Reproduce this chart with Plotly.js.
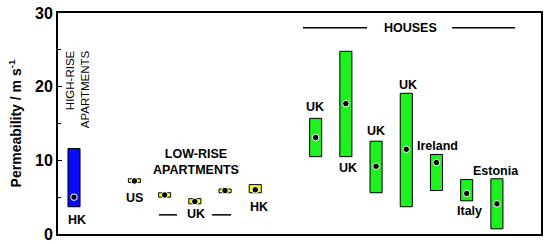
<!DOCTYPE html>
<html>
<head>
<meta charset="utf-8">
<script src="https://cdn.plot.ly/plotly-3.0.1.min.js"></script>
<style>
  html, body { margin: 0; padding: 0; background: #fff; }
  #graph { width: 550px; height: 244px; }
</style>
</head>
<body>
<div id="graph"></div>
<script>
// valores (m s-1)
const highRiseCat = ['HK'];
const highRiseLow = [3.7];
const highRiseHigh = [11.6];
const highRiseMean = [5.0];

const lowRiseCat = ['US', 'UK', 'UK', 'UK', 'HK'];
const lowRiseLow = [7.0, 5.0, 4.1, 5.6, 5.6];
const lowRiseHigh = [7.5, 5.6, 4.8, 6.1, 6.7];
const lowRiseMean = [7.2, 5.3, 4.4, 5.9, 6.0];

const housesCat = ['UK', 'UK', 'UK', 'UK', 'Ireland', 'Italy', 'Estonia'];
const housesLow = [10.5, 10.5, 5.6, 3.7, 5.9, 4.5, 0.7];
const housesHigh = [15.7, 24.8, 12.6, 19.1, 10.8, 7.4, 7.5];
const housesMean = [13.1, 17.7, 9.2, 11.5, 9.7, 5.5, 4.1];

// grupos, con un hueco entre ellos
const grupos = [
  {cat: highRiseCat, low: highRiseLow, high: highRiseHigh, mean: highRiseMean, color: '#0a0aff'},
  {cat: lowRiseCat, low: lowRiseLow, high: lowRiseHigh, mean: lowRiseMean, color: '#ffff00'},
  {cat: housesCat, low: housesLow, high: housesHigh, mean: housesMean, color: '#1ff01f'}
];

let xs = [], bases = [], alturas = [], medias = [], colores = [];
let pos = 0;
grupos.forEach(g => {
  g.cat.forEach((c, i) => {
    xs.push(pos);
    bases.push(g.low[i]);
    alturas.push(g.high[i] - g.low[i]);
    medias.push(g.mean[i]);
    colores.push(g.color);
    pos++;
  });
  pos++; // hueco entre grupos
});

const barras = {
  type: 'bar',
  x: xs,
  y: alturas,
  base: bases,
  width: 0.4,
  marker: {color: colores, line: {color: '#000', width: 1}},
  hoverinfo: 'skip'
};

const puntos = {
  type: 'scatter',
  mode: 'markers',
  x: xs,
  y: medias,
  marker: {color: '#000', size: 6.5, line: {color: '#fff', width: 1}},
  hoverinfo: 'skip'
};

const fuente = {family: 'Arial, Liberation Sans, sans-serif', size: 12.5, color: '#000'};
function etiqueta(texto, x, y, extra) {
  return Object.assign({
    text: texto, x: x, y: y, xref: 'x', yref: 'y',
    showarrow: false, font: fuente
  }, extra || {});
}

const anotaciones = [
  etiqueta('HIGH-RISE<br>APARTMENTS', 0.12, 19.6, {textangle: -90, align: 'right', font: Object.assign({}, fuente, {size: 11.5})}),
  etiqueta('<b>' + highRiseCat[0] + '</b>', 0.1, 1.9),
  etiqueta('<b>LOW-RISE<br>APARTMENTS</b>', 4.04, 9.8),
  etiqueta('<b>' + lowRiseCat[0] + '</b>', 1.99, 4.9),
  etiqueta('<b>UK</b>', 4.04, 2.7),
  etiqueta('<b>' + lowRiseCat[4] + '</b>', 6.13, 3.7),
  etiqueta('<b>HOUSES</b>', 11.13, 28.0),
  etiqueta('<b>' + housesCat[0] + '</b>', 7.98, 17.2),
  etiqueta('<b>' + housesCat[1] + '</b>', 9.07, 8.9),
  etiqueta('<b>' + housesCat[2] + '</b>', 10.0, 14.0),
  etiqueta('<b>' + housesCat[3] + '</b>', 11.06, 20.2),
  etiqueta('<b>' + housesCat[4] + '</b>', 12.02, 11.9),
  etiqueta('<b>' + housesCat[5] + '</b>', 13.08, 3.1),
  etiqueta('<b>' + housesCat[6] + '</b>', 13.97, 8.5)
];

function linea(x0, x1, y) {
  return {type: 'line', xref: 'x', yref: 'y', x0: x0, x1: x1, y0: y, y1: y,
          line: {color: '#000', width: 1.5}};
}

const layout = {
  width: 550,
  height: 244,
  margin: {l: 58, r: 9, t: 13, b: 10},
  paper_bgcolor: '#fff',
  plot_bgcolor: '#fff',
  showlegend: false,
  bargap: 0,
  xaxis: {
    range: [-0.53, 15.46],
    showticklabels: false,
    ticks: '',
    showgrid: false,
    zeroline: false,
    showline: true,
    mirror: true,
    linecolor: '#000',
    linewidth: 2
  },
  yaxis: {
    range: [0, 30],
    dtick: 10,
    ticks: 'inside',
    ticklen: 4,
    tickcolor: '#000',
    minor: {ticks: 'inside', dtick: 5, ticklen: 3, tickcolor: '#000'},
    showgrid: false,
    zeroline: false,
    showline: true,
    mirror: true,
    linecolor: '#000',
    linewidth: 2,
    tickfont: {family: 'Arial, Liberation Sans, sans-serif', size: 16, color: '#000', weight: 'bold'},
    title: {
      text: '<b>Permeability / m s<sup>-1</sup></b>',
      font: {family: 'Arial, Liberation Sans, sans-serif', size: 14, color: '#000'},
      standoff: 10
    }
  },
  annotations: anotaciones,
  shapes: [
    linea(2.81, 3.41, 2.6),
    linea(4.57, 5.2, 2.6),
    linea(7.58, 9.7, 28.0),
    linea(12.52, 14.6, 28.0)
  ]
};

Plotly.newPlot('graph', [barras, puntos], layout, {displayModeBar: false, staticPlot: true});
</script>
</body>
</html>
